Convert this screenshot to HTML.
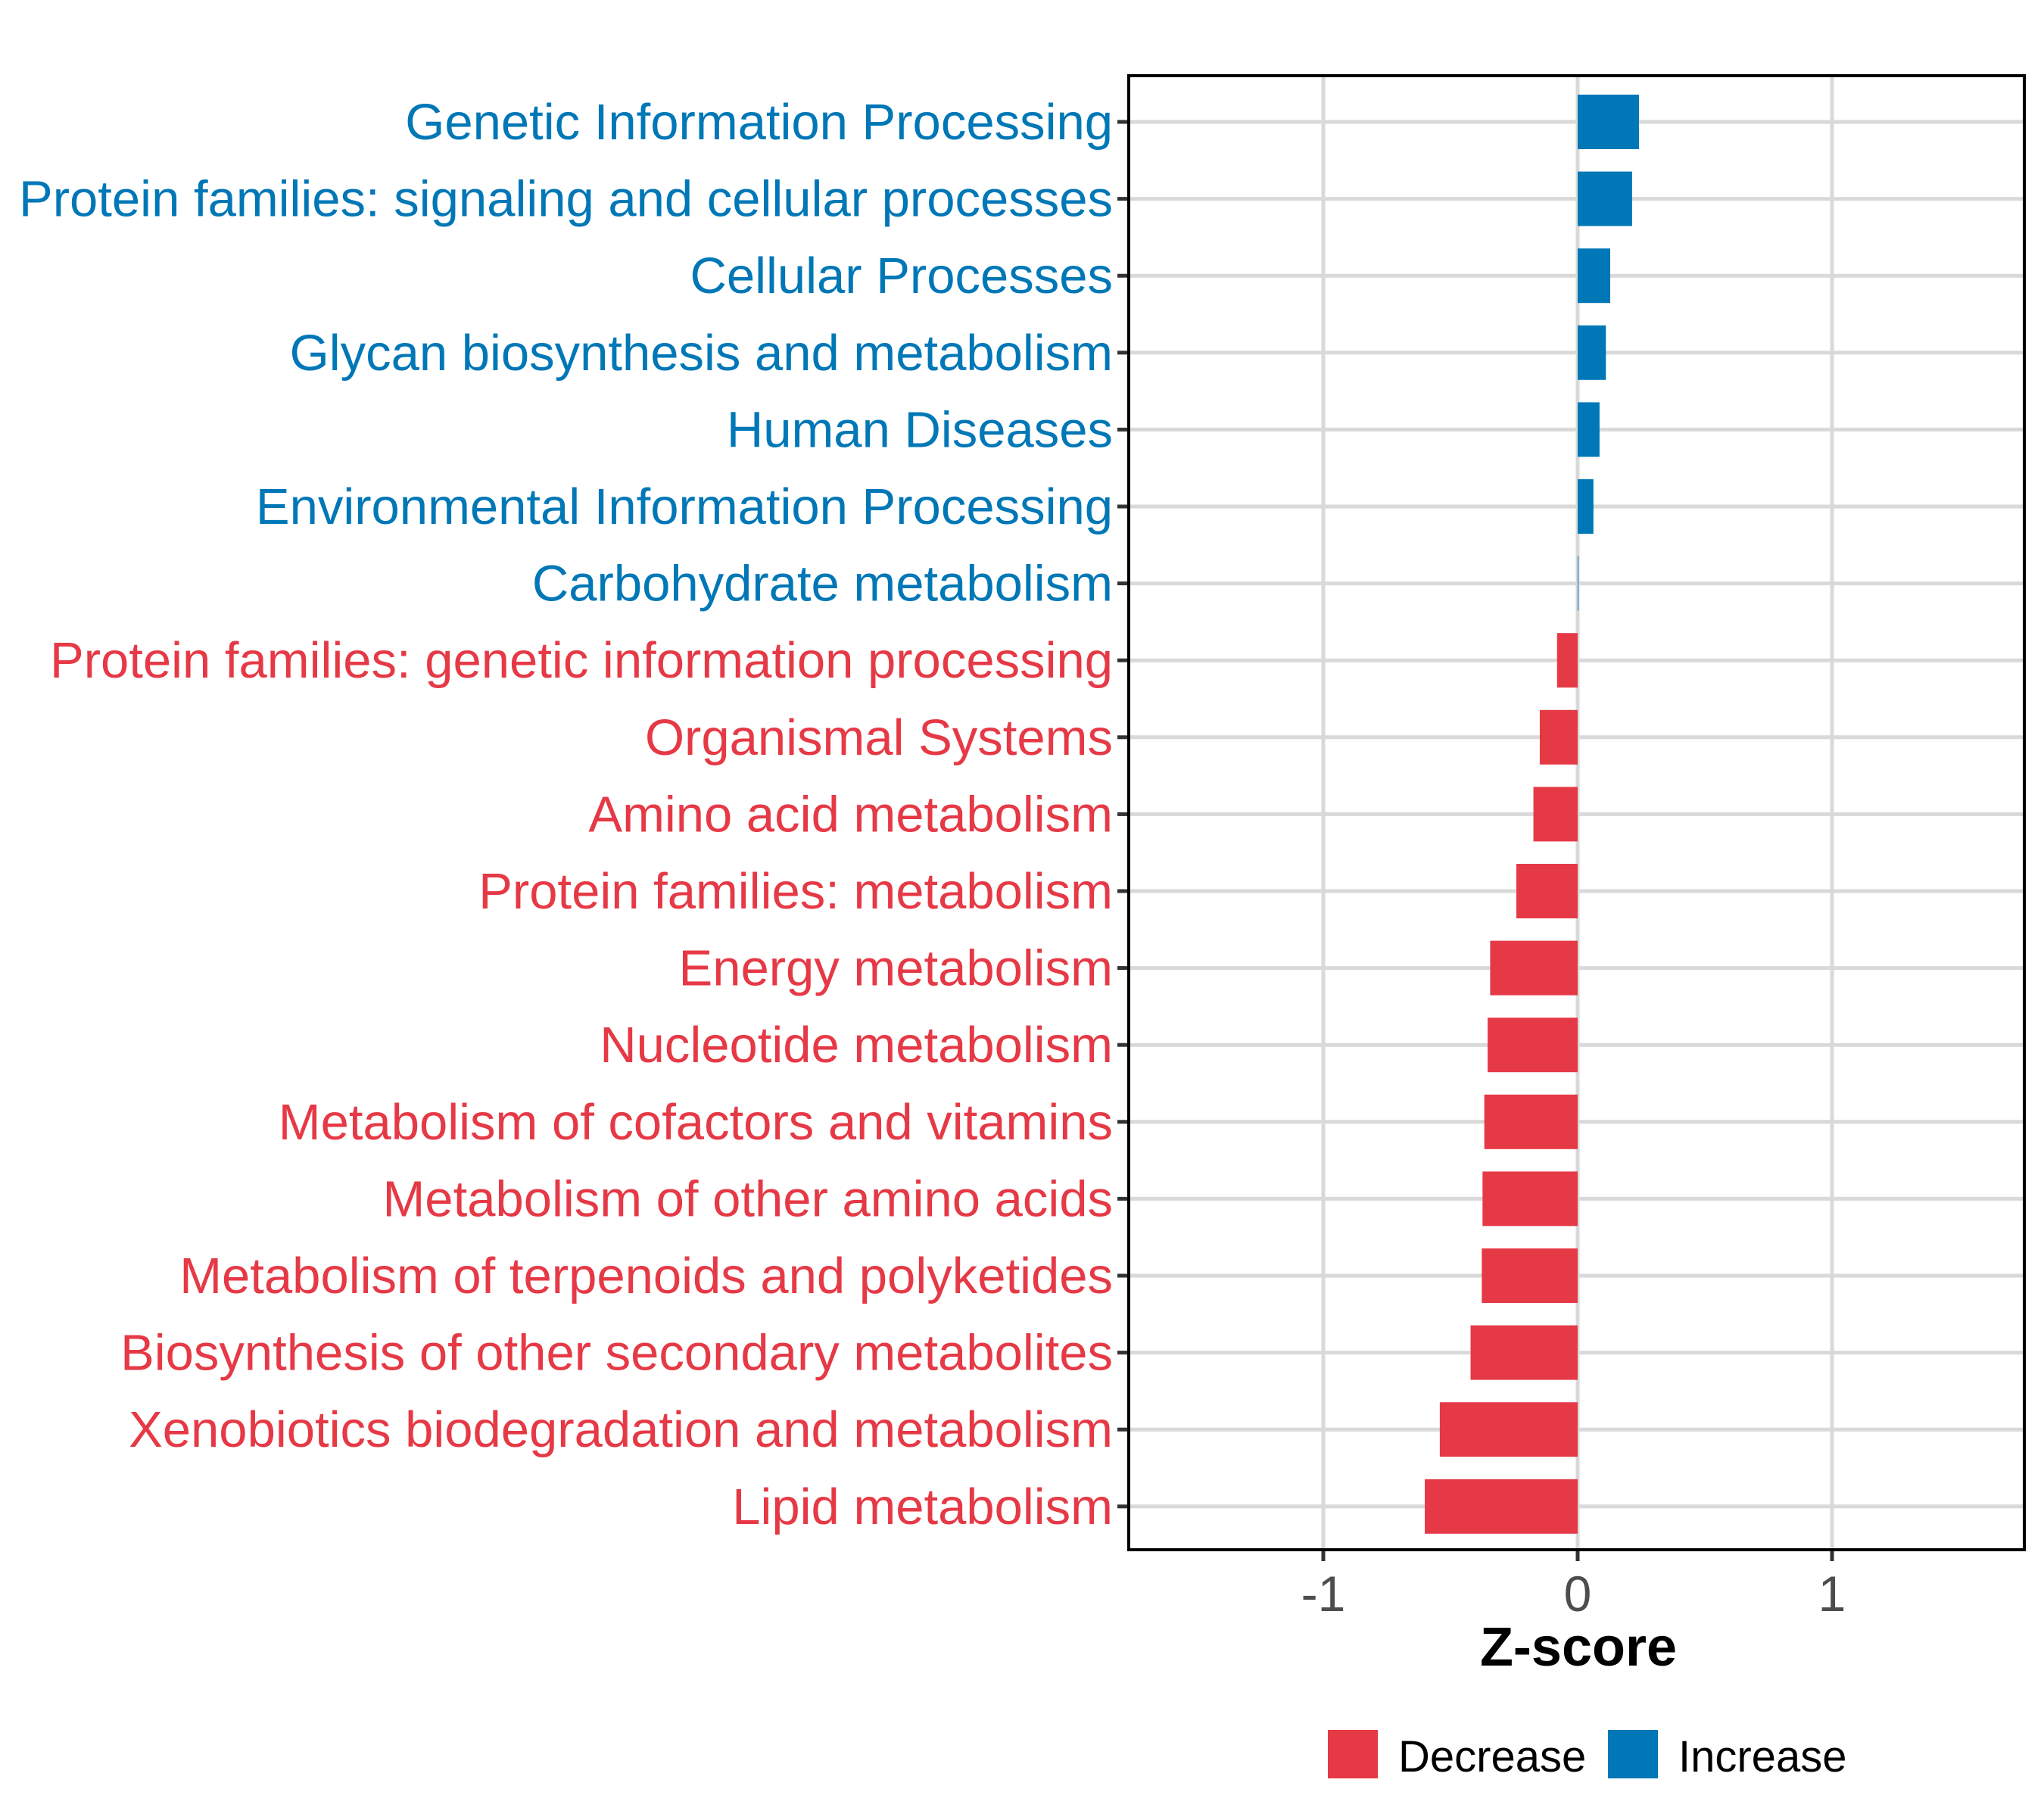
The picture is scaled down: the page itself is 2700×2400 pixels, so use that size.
<!DOCTYPE html>
<html><head><meta charset="utf-8"><style>
html,body{margin:0;padding:0;background:#fff}
svg{display:block}
text{font-family:"Liberation Sans",Arial,sans-serif}
</style></head><body>
<svg id="chart" width="2700" height="2400" viewBox="0 0 2700 2400" xmlns="http://www.w3.org/2000/svg">
<rect width="2700" height="2400" fill="#fff"/>
<g id="grid"></g>
<g id="bars"></g>
<g id="ylabels"></g>
<g id="xticks"></g>
<rect x="1491" y="100" width="1183" height="1947" fill="none" stroke="#000" stroke-width="4"/>
<text x="2085" y="2200" font-size="72" font-weight="bold" text-anchor="middle" fill="#000">Z-score</text>
<g>
<rect x="1754" y="2285" width="66" height="64" fill="#E63946"/>
<text x="1847" y="2340" font-size="58" fill="#000">Decrease</text>
<rect x="2124" y="2285" width="66" height="64" fill="#0077B6"/>
<text x="2217" y="2340" font-size="58" fill="#000">Increase</text>
</g>
</svg>
<script>
const categories = ["Genetic Information Processing","Protein families: signaling and cellular processes","Cellular Processes","Glycan biosynthesis and metabolism","Human Diseases","Environmental Information Processing","Carbohydrate metabolism","Protein families: genetic information processing","Organismal Systems","Amino acid metabolism","Protein families: metabolism","Energy metabolism","Nucleotide metabolism","Metabolism of cofactors and vitamins","Metabolism of other amino acids","Metabolism of terpenoids and polyketides","Biosynthesis of other secondary metabolites","Xenobiotics biodegradation and metabolism","Lipid metabolism"];
const zscores = [0.241,0.214,0.128,0.111,0.086,0.062,0.002,-0.081,-0.149,-0.174,-0.241,-0.344,-0.354,-0.367,-0.374,-0.377,-0.421,-0.542,-0.601];
const xTicks = [-1,0,1];
const xTickLabels = ["-1","0","1"];

const NS="http://www.w3.org/2000/svg";
const X0=2084, UNIT=336;
function xScale(v){return X0+v*UNIT;}
const Y0=161, STEP=101.6;
function yScale(i){return Y0+i*STEP;}
function mk(tag,attrs,parent){const e=document.createElementNS(NS,tag);for(const k in attrs)e.setAttribute(k,attrs[k]);parent.appendChild(e);return e;}
const grid=document.getElementById('grid'),bars=document.getElementById('bars'),yl=document.getElementById('ylabels'),xt=document.getElementById('xticks');
xTicks.forEach((t,i)=>{
  const x=xScale(t);
  const g=mk('line',{x1:x,x2:x,y1:100,y2:2047,stroke:'#D9D9D9','stroke-width':5},grid);
  
  
  const tk=mk('line',{x1:x,x2:x,y1:2047,y2:2062,stroke:'#333','stroke-width':5},xt);
  
  
  const tl=mk('text',{x:x,y:2128,'font-size':66,'text-anchor':'middle',fill:'#4D4D4D'},xt);
  tl.textContent=xTickLabels[i];
  
  
});
categories.forEach((c,i)=>{
  const y=yScale(i);
  const g=mk('line',{x1:1491,x2:2674,y1:y,y2:y,stroke:'#D9D9D9','stroke-width':5},grid);
  
  
  const v=zscores[i];
  const col=v>=0?'#0077B6':'#E63946';
  const x1=xScale(Math.min(0,v)), x2=xScale(Math.max(0,v));
  const r=mk('rect',{x:x1,y:y-36,width:Math.max(1,x2-x1),height:72,fill:col},bars);
  
  
  const tk=mk('line',{x1:1476,x2:1491,y1:y,y2:y,stroke:'#333','stroke-width':5},yl);
  
  
  const t=mk('text',{x:1470,y:y+23,'font-size':67,'text-anchor':'end',fill:col},yl);
  t.textContent=c;
  
  
});
</script>
</body></html>
